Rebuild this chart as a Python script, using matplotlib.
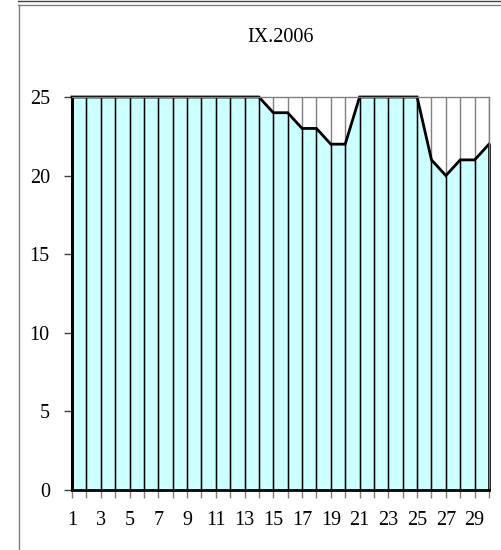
import matplotlib.pyplot as plt
from matplotlib.lines import Line2D

days = list(range(1, 31))
values = [25, 25, 25, 25, 25, 25, 25, 25, 25, 25, 25, 25, 25, 25,
          24, 24, 23, 23, 22, 22, 25, 25, 25, 25, 25, 21, 20, 21, 21, 22]
yticks = [0, 5, 10, 15, 20, 25]
title = "IX.2006"

plt.rcParams['font.family'] = ['Liberation Serif', 'DejaVu Serif']
plt.rcParams['font.size'] = 14.5

W, H = 502, 550
fig = plt.figure(figsize=(W / 100, H / 100), dpi=100)
ax = fig.add_axes([72 / W, 1 - 490 / H, (489 - 72) / W, (490 - 97) / H])

ax.fill_between(days, values, 0, color='#CCFFFF', linewidth=0)
ax.vlines(days, 0, 25, color='#808080', linewidth=1)
ax.vlines(days, 0, values, color='black', linewidth=1)
ax.plot(days, values, color='black', linewidth=2, solid_joinstyle='miter', clip_on=False)
ax.vlines([days[0], days[-1]], 0, [values[0], values[-1]], color='black', linewidth=2, clip_on=False)

ax.set_xlim(1, 30)
ax.set_ylim(0, 25)

for side in ['top', 'right']:
    ax.spines[side].set_color('#808080')
    ax.spines[side].set_linewidth(1)
for side in ['left', 'bottom']:
    ax.spines[side].set_color('black')
    ax.spines[side].set_linewidth(2)

ax.set_xticks(days)
ax.set_xticklabels([str(d) if d % 2 == 1 else '' for d in days])
ax.set_yticks(yticks)
ax.tick_params(axis='x', direction='out', length=6, width=1, color='#808080', pad=9)
ax.tick_params(axis='y', direction='out', length=6, width=1, color='#404040', pad=10)

fig.text((72 + 489) / 2 / W, 1 - 38 / H, title, ha='center', va='center')

fig.add_artist(Line2D([18 / W, 1], [1 - 1 / H, 1 - 1 / H], color='#404040', linewidth=1, transform=fig.transFigure))
fig.add_artist(Line2D([18 / W, 1], [1 - 4.5 / H, 1 - 4.5 / H], color='#808080', linewidth=1, transform=fig.transFigure))
fig.add_artist(Line2D([18.5 / W, 18.5 / W], [0, 1 - 4.5 / H], color='#808080', linewidth=1, transform=fig.transFigure))

fig.savefig('out.png', dpi=100)
